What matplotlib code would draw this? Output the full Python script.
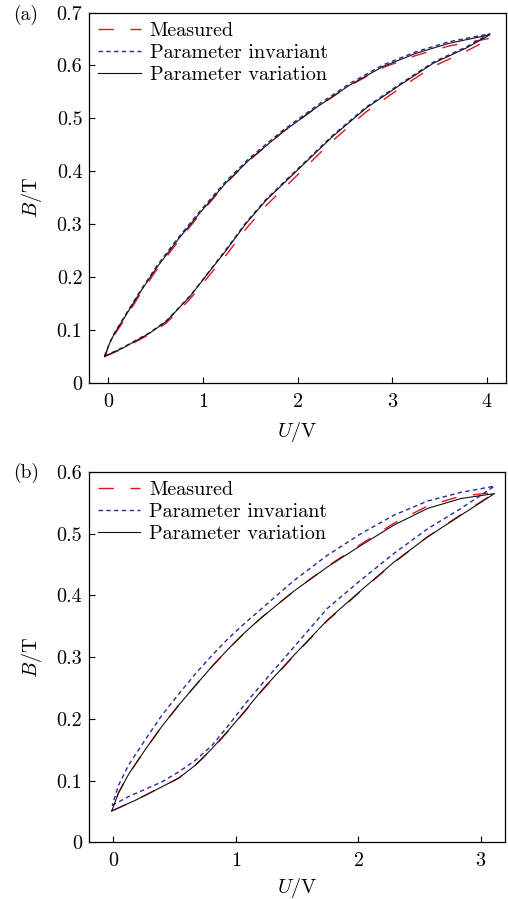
"""B-U hysteresis loops: measured vs. model with invariant / varied parameters."""

import matplotlib
matplotlib.use('Agg')
import matplotlib.pyplot as plt
from matplotlib.ticker import FuncFormatter

plt.rcParams['font.family'] = ['cmr10', 'DejaVu Serif']
plt.rcParams['mathtext.fontset'] = 'cm'
plt.rcParams['axes.formatter.use_mathtext'] = True

# ---- panel (a): loop traced min -> max (lower branch) -> min (upper branch)
u_a_var = [-0.04, 0.154, 0.436, 0.61, 0.86, 1.0, 1.246, 1.457, 1.67, 2.02, 2.37, 2.72, 3.08, 3.43, 3.78, 4.03,
           3.60, 3.25, 2.90, 2.55, 2.20, 1.84, 1.49, 1.246, 0.964, 0.718, 0.507, 0.33, 0.154, 0.06, 0.014, -0.04]
b_a_var = [0.050, 0.066, 0.094, 0.116, 0.163, 0.195, 0.251, 0.302, 0.346, 0.406, 0.466, 0.519, 0.563, 0.604, 0.633, 0.658,
           0.642, 0.623, 0.598, 0.563, 0.521, 0.474, 0.422, 0.379, 0.321, 0.267, 0.217, 0.170, 0.119, 0.092, 0.075, 0.050]

u_a_inv = [-0.04, 0.154, 0.436, 0.61, 0.86, 1.0, 1.246, 1.457, 1.67, 2.02, 2.37, 2.72, 3.08, 3.43, 3.78, 4.03,
           3.60, 3.25, 2.90, 2.55, 2.20, 1.84, 1.49, 1.246, 0.964, 0.718, 0.507, 0.33, 0.154, 0.06, 0.014, -0.04]
b_a_inv = [0.051, 0.067, 0.095, 0.117, 0.164, 0.196, 0.253, 0.304, 0.348, 0.408, 0.468, 0.521, 0.565, 0.606, 0.635, 0.660,
           0.645, 0.626, 0.601, 0.566, 0.524, 0.477, 0.425, 0.382, 0.324, 0.270, 0.220, 0.172, 0.121, 0.093, 0.076, 0.051]

u_a_meas = [-0.04, 0.154, 0.436, 0.61, 0.86, 1.0, 1.246, 1.457, 1.67, 2.02, 2.37, 2.72, 3.08, 3.43, 3.78, 4.05,
            3.60, 3.25, 2.90, 2.55, 2.20, 1.84, 1.49, 1.246, 0.964, 0.718, 0.507, 0.33, 0.154, 0.06, 0.014, -0.04]
b_a_meas = [0.050, 0.065, 0.092, 0.113, 0.158, 0.189, 0.242, 0.292, 0.336, 0.397, 0.458, 0.512, 0.557, 0.598, 0.627, 0.652,
            0.637, 0.619, 0.596, 0.562, 0.521, 0.474, 0.421, 0.378, 0.318, 0.263, 0.213, 0.166, 0.115, 0.090, 0.073, 0.050]

# ---- panel (b)
u_b_var = [-0.013, 0.178, 0.396, 0.532, 0.669, 0.805, 0.941, 1.078, 1.214, 1.473, 1.746, 2.02, 2.29, 2.565, 2.837, 3.11,
           2.837, 2.565, 2.29, 2.02, 1.746, 1.473, 1.214, 1.078, 0.941, 0.805, 0.669, 0.532, 0.396, 0.259, 0.123, 0.041, -0.013]
b_b_var = [0.051, 0.068, 0.090, 0.104, 0.125, 0.152, 0.182, 0.214, 0.247, 0.303, 0.360, 0.408, 0.454, 0.495, 0.530, 0.565,
           0.557, 0.541, 0.514, 0.481, 0.446, 0.407, 0.365, 0.341, 0.314, 0.285, 0.254, 0.222, 0.188, 0.150, 0.110, 0.080, 0.051]

u_b_inv = [-0.01, 0.123, 0.396, 0.532, 0.669, 0.805, 0.941, 1.078, 1.214, 1.48, 1.746, 2.02, 2.29, 2.565, 2.837, 3.11,
           2.837, 2.565, 2.29, 2.02, 1.746, 1.473, 1.2, 1.078, 0.941, 0.805, 0.669, 0.532, 0.396, 0.259, 0.123, 0.041, -0.01]
b_b_inv = [0.060, 0.074, 0.098, 0.114, 0.133, 0.157, 0.190, 0.225, 0.257, 0.318, 0.379, 0.425, 0.468, 0.508, 0.541, 0.577,
           0.567, 0.553, 0.530, 0.500, 0.465, 0.424, 0.377, 0.356, 0.331, 0.303, 0.273, 0.240, 0.206, 0.166, 0.125, 0.092, 0.060]

u_b_meas = [-0.013, 0.178, 0.396, 0.532, 0.669, 0.805, 0.941, 1.078, 1.214, 1.473, 1.746, 2.02, 2.29, 2.565, 2.837, 3.12,
            2.837, 2.565, 2.29, 2.02, 1.746, 1.473, 1.214, 1.078, 0.941, 0.805, 0.669, 0.532, 0.396, 0.259, 0.123, 0.041, -0.013]
b_b_meas = [0.051, 0.068, 0.090, 0.104, 0.125, 0.151, 0.181, 0.213, 0.246, 0.302, 0.359, 0.407, 0.453, 0.495, 0.531, 0.567,
            0.561, 0.545, 0.517, 0.483, 0.447, 0.407, 0.365, 0.341, 0.314, 0.285, 0.254, 0.222, 0.188, 0.150, 0.110, 0.080, 0.051]

labels = ['Measured', 'Parameter invariant', 'Parameter variation']
red, blue, black = '#e5141f', '#2a2a9e', '#111111'
fs = 14.5


def draw(ax, meas, inv, var, xticks, yticks, xlim, ylim):
    ax.plot(*meas, color=red, lw=1.0, dashes=(11, 12), label=labels[0])
    ax.plot(*inv, color=blue, lw=1.0, dashes=(3.2, 2.4), label=labels[1])
    ax.plot(*var, color=black, lw=0.8, label=labels[2])
    ax.set_xlim(xlim)
    ax.set_ylim(ylim)
    ax.set_xticks(xticks)
    ax.set_yticks(yticks)
    ax.yaxis.set_major_formatter(FuncFormatter(lambda v, p: '%g' % round(v, 2)))
    ax.tick_params(direction='in', length=4, width=0.8, labelsize=fs, top=False, right=False)
    ax.tick_params(axis='x', pad=7)
    ax.tick_params(axis='y', pad=5)
    for s in ax.spines.values():
        s.set_linewidth(0.9)
    ax.set_xlabel('$U$/V', fontsize=fs)
    ax.set_ylabel('$B$/T', fontsize=fs)
    ax.legend(loc='upper left', frameon=False, fontsize=fs, handlelength=2.1,
              handletextpad=0.45, labelspacing=0.2, borderaxespad=0.3, borderpad=0.15)


fig = plt.figure(figsize=(5.08, 8.99), dpi=100)
ax1 = fig.add_axes([0.176, 0.574, 0.820, 0.412])
ax2 = fig.add_axes([0.175, 0.063, 0.820, 0.412])

draw(ax1, (u_a_meas, b_a_meas), (u_a_inv, b_a_inv), (u_a_var, b_a_var),
     range(5), [i / 10 for i in range(8)], (-0.2, 4.2), (0, 0.7))
draw(ax2, (u_b_meas, b_b_meas), (u_b_inv, b_b_inv), (u_b_var, b_b_var),
     range(4), [i / 10 for i in range(7)], (-0.2, 3.2), (0, 0.6))

for ax, ypx in ((ax1, -0.132), (ax2, -0.123)):
    ax.xaxis.set_label_coords(0.5, ypx)
    ax.xaxis.label.set_va('center')
    ax.yaxis.set_label_coords(-0.1375, 0.5)
    ax.yaxis.label.set_va('center')

fig.text(0.025, 0.983, '(a)', fontsize=14, va='center')
fig.text(0.025, 0.474, '(b)', fontsize=14, va='center')

fig.savefig('out.png', dpi=100)
